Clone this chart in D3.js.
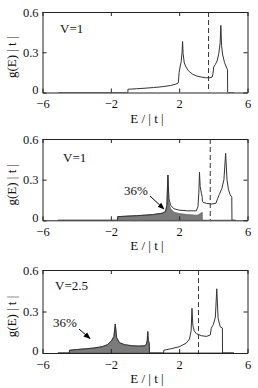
<!DOCTYPE html>
<html>
<head>
<meta charset="utf-8">
<script src="https://cdn.jsdelivr.net/npm/d3@7/dist/d3.min.js"></script>
<style>
  body { margin: 0; background: #fff; }
  svg { display: block; font-family: "Liberation Serif", "Times New Roman", serif; }
</style>
</head>
<body>
<script>
// tick labels
var xTicks = [-6, -2, 2, 6]
var yTicks = [0, 0.3, 0.6]

// panel 1, V=1: total DOS only
var E1 = [-5.1, -1.0, -1.0, -0.5, 0, 0.5, 1.0, 1.5, 1.8, 1.95, 2.0, 2.05, 2.12, 2.17, 2.2, 2.23, 2.3, 2.4, 2.55, 2.8, 3.05, 3.3, 3.55, 3.8, 3.93, 3.98, 4.02, 4.12, 4.22, 4.32, 4.4, 4.44, 4.48, 4.55, 4.65, 4.76, 4.83, 4.84, 5.2]
var tot1 = [0, 0, 0.024, 0.028, 0.032, 0.037, 0.043, 0.052, 0.062, 0.072, 0.15, 0.19, 0.23, 0.3, 0.38, 0.29, 0.22, 0.19, 0.16, 0.135, 0.122, 0.115, 0.11, 0.11, 0.115, 0.14, 0.19, 0.21, 0.235, 0.29, 0.37, 0.5, 0.35, 0.28, 0.225, 0.19, 0.17, 0, 0]
var part1 = null

// panel 2, V=1: total and shaded part (36%)
var E2 = [-5.1, -1.61, -1.6, -1.0, -0.5, 0, 0.5, 1.0, 1.2, 1.28, 1.34, 1.4, 1.5, 1.7, 2.0, 2.5, 3.0, 3.1, 3.15, 3.19, 3.23, 3.3, 3.35, 3.36, 3.4, 3.6, 3.9, 4.15, 4.25, 4.35, 4.5, 4.62, 4.72, 4.8, 4.88, 4.98, 5.08, 5.09, 5.3]
var tot2 = [0, 0, 0.027, 0.031, 0.034, 0.038, 0.043, 0.052, 0.065, 0.11, 0.334, 0.16, 0.11, 0.085, 0.075, 0.07, 0.07, 0.1, 0.2, 0.355, 0.25, 0.2, 0.17, 0.14, 0.133, 0.125, 0.12, 0.125, 0.16, 0.19, 0.235, 0.3, 0.494, 0.3, 0.23, 0.19, 0.17, 0, 0]
var part2 = [0, 0, 0.027, 0.031, 0.034, 0.038, 0.043, 0.052, 0.065, 0.11, 0.334, 0.13, 0.085, 0.06, 0.05, 0.042, 0.038, 0.04, 0.042, 0.046, 0.05, 0.055, 0.06, 0, 0, 0, 0, 0, 0, 0, 0, 0, 0, 0, 0, 0, 0, 0, 0]

// panel 3, V=2.5
var E3 = [-5.1, -4.43, -4.42, -4.0, -3.5, -3.0, -2.5, -2.2, -1.95, -1.82, -1.74, -1.66, -1.5, -1.2, -0.8, -0.4, 0, 0.08, 0.13, 0.16, 0.2, 0.25, 0.26, 1.09, 1.1, 1.5, 2.0, 2.4, 2.6, 2.7, 2.75, 2.8, 2.88, 3.0, 3.3, 3.6, 3.82, 3.88, 4.0, 4.12, 4.2, 4.28, 4.4, 4.53, 4.54, 5.2]
var tot3 = [0, 0, 0.02, 0.025, 0.03, 0.036, 0.046, 0.06, 0.09, 0.12, 0.21, 0.11, 0.075, 0.06, 0.053, 0.05, 0.052, 0.065, 0.09, 0.155, 0.09, 0.07, 0, 0, 0.02, 0.03, 0.045, 0.07, 0.1, 0.16, 0.323, 0.2, 0.16, 0.14, 0.125, 0.12, 0.13, 0.18, 0.205, 0.26, 0.464, 0.25, 0.19, 0.18, 0, 0]
var part3 = [0, 0, 0.02, 0.025, 0.03, 0.036, 0.046, 0.06, 0.09, 0.12, 0.21, 0.11, 0.075, 0.06, 0.053, 0.05, 0.052, 0.065, 0.09, 0.155, 0.09, 0.07, 0, 0, 0, 0, 0, 0, 0, 0, 0, 0, 0, 0, 0, 0, 0, 0, 0, 0, 0, 0, 0, 0, 0, 0]

var fermi = [3.72, 3.82, 3.13]
var vLabels = ['V=1', 'V=1', 'V=2.5']
var pctLabels = [null, '36%', '36%']

var panels = [
  {E: E1, tot: tot1, part: part1, top: 12, bottom: 92.5, vx: 60, vy: 33, pct: null},
  {E: E2, tot: tot2, part: part2, top: 139, bottom: 220.3, vx: 63, vy: 162, pct: [124, 195, 150, 196, 164, 209]},
  {E: E3, tot: tot3, part: part3, top: 270, bottom: 353, vx: 55, vy: 290, pct: [53, 326.5, 79, 329, 90, 338.5]}
]

var W = 258, H = 388
var left = 42.5, right = 247.5

var svg = d3.select('body').append('svg')
  .attr('width', W)
  .attr('height', H)

var defs = svg.append('defs')
defs.append('marker')
  .attr('id', 'arr')
  .attr('viewBox', '0 0 10 10')
  .attr('refX', 9).attr('refY', 5)
  .attr('markerWidth', 7).attr('markerHeight', 7)
  .attr('markerUnits', 'userSpaceOnUse')
  .attr('orient', 'auto')
  .append('path')
  .attr('d', 'M0,1 L10,5 L0,9 Z')
  .attr('fill', '#000')

var x = d3.scaleLinear().domain([-6, 6]).range([left, right])

panels.forEach(function(p, i) {
  var y = d3.scaleLinear().domain([0, 0.6]).range([p.bottom, p.top])
  var g = svg.append('g')

  defs.append('clipPath').attr('id', 'clip' + i)
    .append('rect')
    .attr('x', left).attr('y', p.top)
    .attr('width', right - left).attr('height', p.bottom - p.top)

  var plot = g.append('g').attr('clip-path', 'url(#clip' + i + ')')

  var pts = p.E.map(function(e, k) { return [e, p.tot[k]] })

  if (p.part) {
    var area = d3.area()
      .x(function(d) { return x(d[0]) })
      .y0(y(0))
      .y1(function(d) { return y(d[1]) })
    plot.append('path')
      .datum(p.E.map(function(e, k) { return [e, p.part[k]] }))
      .attr('d', area)
      .attr('fill', '#7b7b7b')
      .attr('stroke', '#555')
      .attr('stroke-width', 0.6)
  }

  var line = d3.line()
    .x(function(d) { return x(d[0]) })
    .y(function(d) { return y(d[1]) })
  plot.append('path')
    .datum(pts)
    .attr('d', line)
    .attr('fill', 'none')
    .attr('stroke', '#333')
    .attr('stroke-width', 1)

  // fermi level
  plot.append('line')
    .attr('x1', x(fermi[i])).attr('x2', x(fermi[i]))
    .attr('y1', p.top).attr('y2', p.bottom)
    .attr('stroke', '#333')
    .attr('stroke-width', 1)
    .attr('stroke-dasharray', '5,3')

  // axes, MATLAB style box with inner ticks
  var xb = d3.axisBottom(x).tickValues(xTicks).tickSizeInner(-4).tickSizeOuter(0).tickPadding(7)
    .tickFormat(function(d) { return d < 0 ? '\u2212' + Math.abs(d) : d })
  var xt = d3.axisTop(x).tickValues(xTicks).tickSizeInner(-4).tickSizeOuter(0).tickFormat('')
  var yl = d3.axisLeft(y).tickValues(yTicks).tickSizeInner(-4).tickSizeOuter(0).tickPadding(4)
    .tickFormat(function(d) { return d === 0 ? '0' : d3.format('.1f')(d) })
  var yr = d3.axisRight(y).tickValues(yTicks).tickSizeInner(-4).tickSizeOuter(0).tickFormat('')

  var ax = [
    g.append('g').attr('transform', 'translate(0,' + p.bottom + ')').call(xb),
    g.append('g').attr('transform', 'translate(0,' + p.top + ')').call(xt),
    g.append('g').attr('transform', 'translate(' + left + ',0)').call(yl),
    g.append('g').attr('transform', 'translate(' + right + ',0)').call(yr)
  ]
  ax.forEach(function(a) {
    a.select('.domain').attr('stroke', '#222')
    a.selectAll('.tick line').attr('stroke', '#222')
    a.selectAll('text')
      .attr('fill', '#111')
      .style('font-family', '"Liberation Serif", serif')
      .style('font-size', '12.5px')
  })
  // nudge the zero label up a little so it clears the -6 below it
  ax[2].selectAll('.tick').filter(function(d) { return d === 0 })
    .select('text').attr('dy', '0.1em')

  g.append('text')
    .attr('x', (left + right) / 2 + 2)
    .attr('y', p.bottom + 30)
    .attr('text-anchor', 'middle')
    .style('font-size', '13px')
    .attr('fill', '#111')
    .text('E / | t |')

  g.append('text')
    .attr('transform', 'translate(16,' + ((p.top + p.bottom) / 2 + 5) + ') rotate(-90)')
    .attr('text-anchor', 'middle')
    .style('font-size', '13px')
    .attr('fill', '#111')
    .text('g(E) | t |')

  g.append('text')
    .attr('x', p.vx).attr('y', p.vy)
    .style('font-size', '13px')
    .attr('fill', '#111')
    .text(vLabels[i])

  if (pctLabels[i]) {
    g.append('text')
      .attr('x', p.pct[0]).attr('y', p.pct[1])
      .style('font-size', '13px')
      .attr('fill', '#111')
      .text(pctLabels[i])
    g.append('line')
      .attr('x1', p.pct[2]).attr('y1', p.pct[3])
      .attr('x2', p.pct[4]).attr('y2', p.pct[5])
      .attr('stroke', '#000')
      .attr('stroke-width', 1)
      .attr('marker-end', 'url(#arr)')
  }
})
</script>
</body>
</html>
